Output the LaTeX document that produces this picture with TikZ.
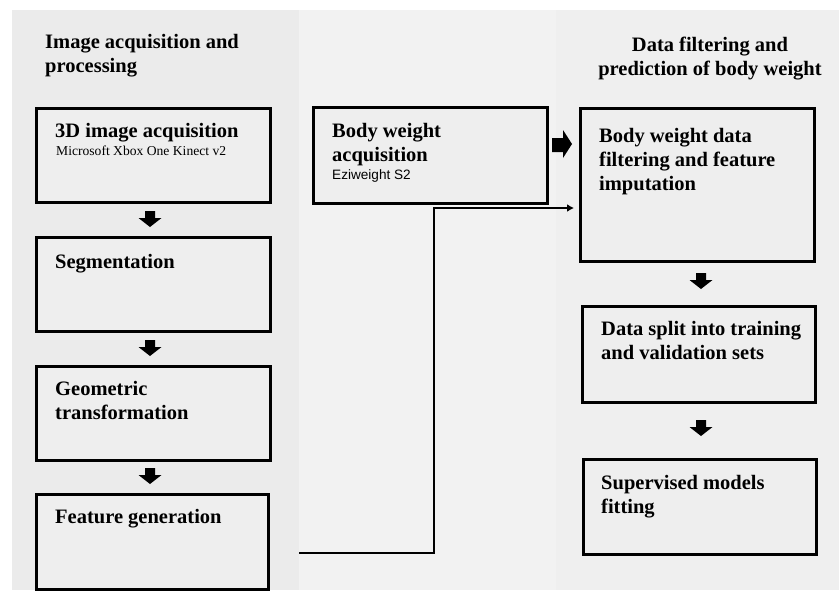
\documentclass[tikz,border=0pt]{standalone}
\usepackage{fontspec}
\usetikzlibrary{arrows.meta}
\setmainfont{Liberation Serif}
\newfontfamily\arialfont{Liberation Sans}
\begin{document}
\begin{tikzpicture}[x=1pt,y=-1pt,
  box/.style={draw=black,line width=3pt,fill=boxcol,rectangle,inner sep=0pt},
  btitle/.style={anchor=base west,inner sep=0pt,font=\fontsize{20.5}{24}\selectfont\bfseries,align=left},
  bsub/.style={anchor=base west,inner sep=0pt,font=\fontsize{13.6}{16}\selectfont},
  blk/.style={fill=black,draw=none},
  conn/.style={line width=2pt}]
\definecolor{panelLcol}{HTML}{EBEBEB}
\definecolor{panelMcol}{HTML}{F2F2F2}
\definecolor{panelRcol}{HTML}{EFEFEF}
\definecolor{boxcol}{HTML}{EEEEEE}
\useasboundingbox (0,0) rectangle (839,590);
\fill[white] (0,0) rectangle (839,590);
% panels
\fill[panelLcol] (12,10) rectangle (299,590);
\fill[panelMcol] (299,10) rectangle (556,590);
\fill[panelRcol] (556,10) rectangle (839,590);
% titles (anchor = baseline of last line)
\node[btitle] (t1) at (45,72) {Image acquisition and\\processing};
\node[anchor=base,inner sep=0pt,font=\fontsize{20.5}{24}\selectfont\bfseries,align=center] (t2) at (710,75) {Data filtering and\\prediction of body weight};
% left boxes
\node[box,anchor=north west,minimum width=234pt,minimum height=94pt] (a1) at (35,107) {};
\node[box,anchor=north west,minimum width=234pt,minimum height=94pt] (a2) at (35,236) {};
\node[box,anchor=north west,minimum width=234pt,minimum height=94pt] (a3) at (35,365) {};
\node[box,anchor=north west,minimum width=232pt,minimum height=95pt] (a4) at (35,493) {};
\node[btitle] (a1t) at (55,137) {3D image acquisition};
\node[bsub] (a1s) at (56,155) {Microsoft Xbox One Kinect v2};
\node[btitle] (a2t) at (55,268) {Segmentation};
\node[btitle] (a3t) at (55,419) {Geometric\\transformation};
\node[btitle] (a4t) at (55,523) {Feature generation};
% middle box
\node[box,anchor=north west,minimum width=234pt,minimum height=96pt] (m1) at (312,106) {};
\node[btitle] (m1t) at (332,161) {Body weight\\acquisition};
\node[anchor=base west,inner sep=0pt,font=\arialfont\fontsize{13.6}{16}\selectfont] (m1s) at (332,179) {Eziweight S2};
% right boxes
\node[box,anchor=north west,minimum width=234pt,minimum height=153pt] (r1) at (579,107) {};
\node[box,anchor=north west,minimum width=233pt,minimum height=96pt] (r2) at (581,305) {};
\node[box,anchor=north west,minimum width=233pt,minimum height=95pt] (r3) at (582,458) {};
\node[btitle] (r1t) at (599,190) {Body weight data\\filtering and feature\\imputation};
\node[btitle] (r2t) at (601,359) {Data split into training\\and validation sets};
\node[btitle] (r3t) at (601,513) {Supervised models\\fitting};
% block arrows (down)
\foreach \cx/\ty in {150/211, 150/340, 150/468, 701/273, 701/420}{
  \fill[blk] (\cx-5,\ty) -- (\cx+5,\ty) -- (\cx+5,\ty+7) -- (\cx+11.5,\ty+7) -- (\cx,\ty+16) -- (\cx-11.5,\ty+7) -- (\cx-5,\ty+7) -- cycle;
}
% block arrow (right)
\fill[blk] (552,138) -- (563,138) -- (563,130) -- (572,144) -- (563,158) -- (563,152) -- (552,152) -- cycle;
% connector
\coordinate (c0) at (299,553);
\coordinate (c1) at (434,553);
\coordinate (c2) at (434,208);
\coordinate (c3) at (r1.west |- c2);
\draw[conn,-{Latex[length=7pt,width=8pt]}] (c0) -- (c1) -- (c2) -- ([xshift=-5pt]c3);
\end{tikzpicture}
\end{document}
